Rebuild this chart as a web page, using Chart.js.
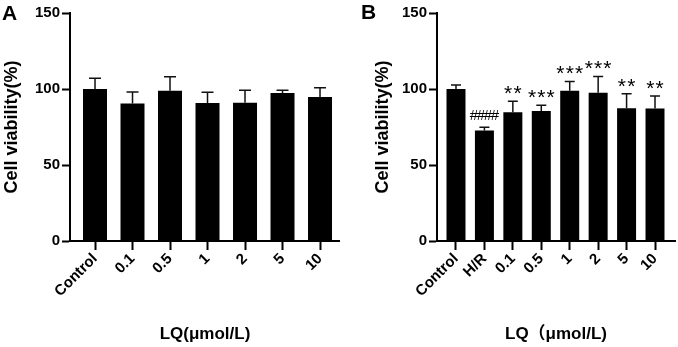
<!DOCTYPE html>
<html>
<head>
<meta charset="utf-8">
<script src="https://cdn.jsdelivr.net/npm/chart.js@4.4.1/dist/chart.umd.min.js"></script>
<style>
  html, body { margin: 0; padding: 0; background: #fff; }
  #wrap { position: relative; width: 678px; height: 347px; overflow: hidden; }
  .panel { position: absolute; top: 0; }
  .lbl { position: absolute; font: bold 21px "Liberation Sans", Arial, sans-serif; line-height: 21px; color: #000; }
</style>
</head>
<body>
<div id="wrap">
  <div class="panel" style="left:0;width:340px;height:347px"><canvas id="cA" width="340" height="347"></canvas></div>
  <div class="panel" style="left:340px;width:338px;height:347px"><canvas id="cB" width="338" height="347"></canvas></div>
  <div class="lbl" style="left:2px;top:2px">A</div>
  <div class="lbl" style="left:361px;top:1px">B</div>
</div>
<script>
// ---- data ----
const catsA = ['Control', '0.1', '0.5', '1', '2', '5', '10'];
const valsA = [100, 90.4, 98.9, 90.8, 91.0, 97.4, 94.8];
const errA  = [7.0, 7.6, 9.2, 7.0, 8.1, 1.7, 6.1];

const catsB = ['Control', 'H/R', '0.1', '0.5', '1', '2', '5', '10'];
const valsB = [100, 72.7, 84.7, 85.6, 98.9, 97.6, 87.3, 87.1];
const errB  = [2.6, 2.2, 7.2, 3.7, 6.1, 10.7, 9.6, 8.3];
const sigB  = ['', '####', '**', '***', '***', '***', '**', '**'];

const yTicks = [0, 50, 100, 150];
const yTitle = 'Cell viability(%)';
const xTitleA = 'LQ(μmol/L)';
const xTitleB = 'LQ（μmol/L)';

const FAM = '"Liberation Sans", Arial, "Noto Sans CJK SC", sans-serif';

function errPlugin(values, errors, sig, cap) {
  return {
    id: 'errbars',
    afterDatasetsDraw(chart) {
      const ctx = chart.ctx;
      const ys = chart.scales.y;
      const meta = chart.getDatasetMeta(0);
      ctx.save();
      ctx.strokeStyle = '#111';
      ctx.lineWidth = 1.5;
      meta.data.forEach((bar, i) => {
        const yBar = ys.getPixelForValue(values[i]);
        const yTop = ys.getPixelForValue(values[i] + errors[i]);
        ctx.beginPath();
        ctx.moveTo(bar.x, yBar);
        ctx.lineTo(bar.x, yTop);
        ctx.moveTo(bar.x - cap / 2, yTop);
        ctx.lineTo(bar.x + cap / 2, yTop);
        ctx.stroke();
        const s = sig ? sig[i] : '';
        if (s) {
          ctx.fillStyle = '#000';
          ctx.textAlign = 'center';
          ctx.textBaseline = 'alphabetic';
          let base, step;
          if (s[0] === '#') {
            ctx.font = '15px ' + FAM;
            base = yTop - 7; step = 7.0;
          } else {
            ctx.font = '21px ' + FAM;
            base = yTop - 1; step = 9.3;
          }
          const n = s.length;
          for (let k = 0; k < n; k++) {
            ctx.fillText(s[k], bar.x + (k - (n - 1) / 2) * step, base);
          }
        }
      });
      ctx.restore();
    }
  };
}

function makeChart(id, cats, vals, errs, sig, cfg) {
  const tickFont = { family: FAM, size: 15, weight: 'bold' };
  const titleFont = { family: FAM, size: 17, weight: 'bold' };
  const yTitleFont = { family: FAM, size: 18, weight: 'bold' };
  return new Chart(document.getElementById(id), {
    type: 'bar',
    data: {
      datasets: [{
        data: vals.map((v, i) => ({ x: i, y: v })),
        backgroundColor: '#000',
        borderWidth: 0,
        barPercentage: cfg.barPct,
        categoryPercentage: 1
      }]
    },
    options: {
      responsive: false,
      animation: false,
      events: [],
      layout: { padding: { left: cfg.padLeft, right: cfg.padRight, top: 13, bottom: 0 } },
      plugins: { legend: { display: false }, tooltip: { enabled: false } },
      scales: {
        x: {
          type: 'linear',
          offset: false,
          bounds: 'data',
          min: cfg.xmin, max: cfg.xmax,
          afterBuildTicks: s => { s.ticks = cats.map((_, i) => ({ value: i })); },
          afterFit: s => { s.height = 106; },
          ticks: {
            callback: (v, i) => cats[i],
            autoSkip: false, minRotation: 45, maxRotation: 45,
            font: tickFont, color: '#000', padding: 0
          },
          grid: { offset: false, drawOnChartArea: false, drawTicks: true, tickLength: 9, tickColor: '#000', tickWidth: 2 },
          border: { display: true, color: '#000', width: 2 },
          title: { display: true, text: cfg.xTitle, font: titleFont, color: '#000', padding: { top: 0, bottom: 2 } }
        },
        y: {
          min: 0, max: 150,
          afterBuildTicks: s => { s.ticks = yTicks.map(v => ({ value: v })); },
          afterFit: s => { s.width = cfg.yWidth; },
          ticks: { font: tickFont, color: '#000', padding: 2 },
          grid: { drawOnChartArea: false, drawTicks: true, tickLength: 8, tickColor: '#000', tickWidth: 2 },
          border: { display: true, color: '#000', width: 2 },
          title: { display: true, text: yTitle, font: yTitleFont, color: '#000', padding: { top: 1, bottom: 0 } }
        }
      }
    },
    plugins: [errPlugin(vals, errs, sig, cfg.cap)]
  });
}

makeChart('cA', catsA, valsA, errA, null, {
  barPct: 0.64, padLeft: 0, padRight: 0, yWidth: 70,
  xmin: -0.667, xmax: 6.533, cap: 12, xTitle: xTitleA
});
makeChart('cB', catsB, valsB, errB, sigB, {
  barPct: 0.668, padLeft: 31, padRight: 3, yWidth: 66,
  xmin: -0.668, xmax: 7.703, cap: 10, xTitle: xTitleB
});
</script>
</body>
</html>
